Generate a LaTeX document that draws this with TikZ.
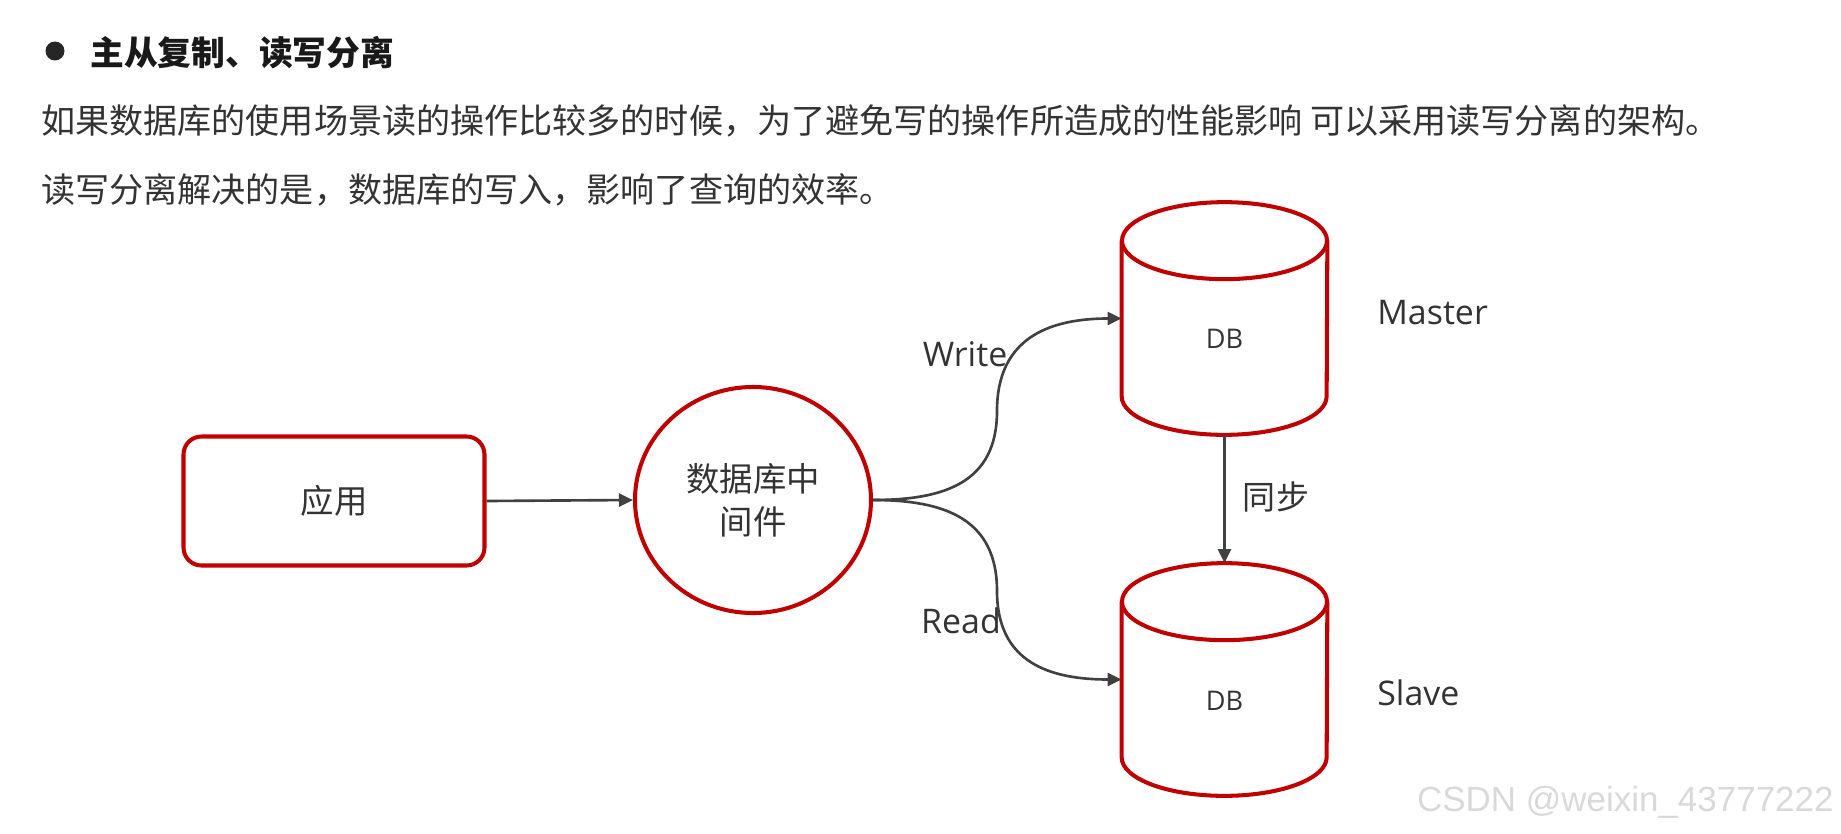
\documentclass[tikz,border=0pt]{standalone}
\usepackage{fontspec}
\setmainfont{Open Sans}
\newfontfamily\cjk{Noto Sans CJK SC}
\newfontfamily\wmfont{Liberation Sans}
\usetikzlibrary{arrows.meta,positioning,shapes.geometric}
\definecolor{boxred}{RGB}{192,0,0}
\definecolor{inkgray}{RGB}{51,51,51}
\definecolor{linkgray}{RGB}{64,64,64}

\begin{document}
\begin{tikzpicture}[x=1cm,y=1cm]
\tikzset{
  heading/.style={anchor=west,inner sep=0pt,text=black!90,font=\cjk\bfseries\fontsize{19.2pt}{23pt}\selectfont},
  para/.style={anchor=west,inner sep=0pt,text=inkgray,font=\cjk\fontsize{19.4pt}{23pt}\selectfont},
  appbox/.style={rectangle,rounded corners=0.36cm,draw=boxred,line width=2.3pt,minimum width=6.02cm,minimum height=2.58cm,text=inkgray,font=\cjk\fontsize{19pt}{24pt}\selectfont},
  midnode/.style={ellipse,draw=boxred,line width=2.3pt,minimum width=4.72cm,minimum height=4.52cm,inner sep=0pt,align=center,text=inkgray,font=\cjk\fontsize{19pt}{24.5pt}\selectfont},
  dbbox/.style={rectangle,minimum width=4.10cm,minimum height=4.64cm,inner sep=0pt},
  drum/.style={draw=boxred,line width=2.3pt},
  dbtext/.style={text=inkgray,font=\fontsize{15.4pt}{18pt}\selectfont},
  tag/.style={inner sep=0pt,text=inkgray,font=\fontsize{19.3pt}{23pt}\selectfont},
  directed/.style={-{Triangle[length=0.28cm,width=0.26cm]},line width=1.5pt,draw=linkgray}
}
\useasboundingbox (0,0) rectangle (36.82,-16.68);

% heading and text
\node[circle,fill=black!85,inner sep=0pt,minimum size=0.38cm] (dot) at (1.10,-1.02) {};
\node[heading] (title) at (1.80,-1.06) {主从复制、读写分离};
\node[para] (line1) at (0.82,-2.42) {如果数据库的使用场景读的操作比较多的时候，为了避免写的操作所造成的性能影响 可以采用读写分离的架构。};
\node[para] (line2) at (0.82,-3.80) {读写分离解决的是，数据库的写入，影响了查询的效率。};

% nodes
\node[appbox] (app) at (6.68,-10.02) {应用};
\node[midnode] (mw) at (15.06,-10.00) {数据库中\\间件};
\node[dbbox] (master) at (24.49,-6.37) {};
\node[dbbox] (slave) at (24.49,-13.59) {};
\foreach \db in {master,slave} {
  \draw[drum] ([yshift=-0.77cm]\db.north) ellipse [x radius=2.05cm,y radius=0.77cm];
  \draw[drum] ([yshift=-0.77cm]\db.north west) -- ([yshift=0.77cm]\db.south west)
    arc [start angle=180,end angle=360,x radius=2.05cm,y radius=0.77cm] -- ([yshift=-0.77cm]\db.north east);
}
\node[dbtext] (mastertxt) at (24.49,-6.78) {DB};
\node[dbtext] (slavetxt) at (24.49,-14.02) {DB};

% labels
\node[tag,anchor=west] (masterlbl) at (27.54,-6.26) {Master};
\node[tag,anchor=west] (slavelbl) at (27.54,-13.86) {Slave};
\node[tag] (writelbl) at (19.30,-7.08) {Write};
\node[tag] (readlbl) at (19.22,-12.42) {Read};
\node[tag,font=\cjk\fontsize{18.8pt}{23pt}\selectfont] (synclbl) at (25.52,-9.94) {同步};

% edges
\coordinate (wbend) at (19.94,-8.22);
\coordinate (rbend) at (19.94,-11.82);
\draw[directed] (app.east) -- (mw.west);
\draw[directed] (mw.east) to[out=0,in=-90,looseness=1.2] (wbend) to[out=90,in=180,looseness=1.2] (master.west);
\draw[directed] (mw.east) to[out=0,in=90,looseness=1.2] (rbend) to[out=-90,in=180,looseness=1.2] (slave.west);
\draw[directed] (master.south) -- (slave.north);

\node[anchor=east,inner sep=0pt,text=black!15,font=\wmfont\fontsize{19.9pt}{24pt}\selectfont] (mark) at (36.68,-16.04) {CSDN @weixin\_43777222};
\end{tikzpicture}
\end{document}
